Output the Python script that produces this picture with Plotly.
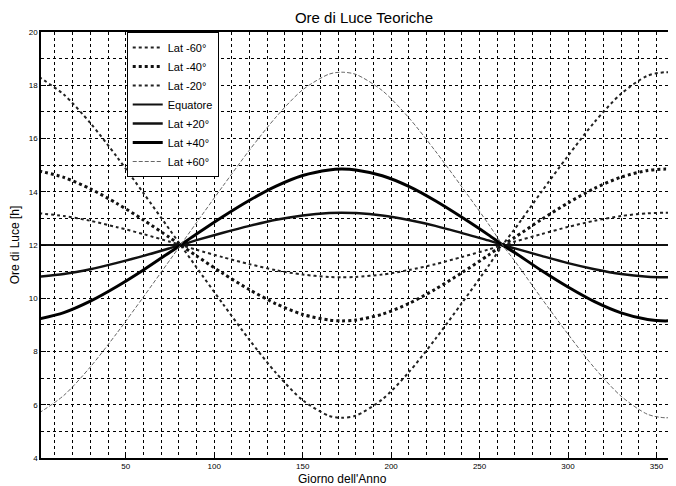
import plotly.graph_objects as go

# Day of year samples
days = [1, 15, 30, 45, 60, 75, 81, 90, 105, 120, 135, 150, 165, 172, 180,
        195, 210, 225, 240, 255, 263, 270, 285, 300, 315, 330, 345, 355, 360]

# Hours of daylight
lat_m60 = [18.31, 17.65, 16.58, 15.31, 13.95, 12.56, 12.00, 11.16, 9.78, 8.43, 7.19, 6.17, 5.58, 5.51, 5.59,
           6.20, 7.22, 8.47, 9.82, 11.21, 12.00, 12.61, 14.00, 15.35, 16.62, 17.68, 18.36, 18.49, 18.46]
lat_m40 = [14.78, 14.54, 14.11, 13.56, 12.94, 12.27, 12.00, 11.59, 10.93, 10.32, 9.79, 9.39, 9.18, 9.15, 9.18,
           9.40, 9.80, 10.34, 10.96, 11.62, 12.00, 12.29, 12.96, 13.58, 14.13, 14.55, 14.80, 14.85, 14.83]
lat_m20 = [13.19, 13.09, 12.91, 12.67, 12.41, 12.12, 12.00, 11.82, 11.54, 11.28, 11.05, 10.89, 10.80, 10.79, 10.80,
           10.89, 11.06, 11.28, 11.55, 11.83, 12.00, 12.13, 12.41, 12.68, 12.91, 13.09, 13.19, 13.21, 13.21]
equatore = [12.00] * len(days)
lat_p20 = [10.81, 10.91, 11.09, 11.33, 11.59, 11.88, 12.00, 12.18, 12.46, 12.72, 12.95, 13.11, 13.20, 13.21, 13.20,
           13.11, 12.94, 12.72, 12.45, 12.17, 12.00, 11.87, 11.59, 11.32, 11.09, 10.91, 10.81, 10.79, 10.79]
lat_p40 = [9.22, 9.46, 9.89, 10.44, 11.06, 11.73, 12.00, 12.41, 13.07, 13.68, 14.21, 14.61, 14.82, 14.85, 14.82,
           14.60, 14.20, 13.66, 13.04, 12.38, 12.00, 11.71, 11.04, 10.42, 9.87, 9.45, 9.20, 9.15, 9.17]
lat_p60 = [5.69, 6.35, 7.42, 8.69, 10.05, 11.44, 12.00, 12.84, 14.22, 15.57, 16.81, 17.83, 18.42, 18.49, 18.41,
           17.80, 16.78, 15.53, 14.18, 12.79, 12.00, 11.39, 10.00, 8.65, 7.38, 6.32, 5.64, 5.51, 5.54]

series_names = ["Lat -60°", "Lat -40°", "Lat -20°", "Equatore", "Lat +20°", "Lat +40°", "Lat +60°"]
series_values = [lat_m60, lat_m40, lat_m20, equatore, lat_p20, lat_p40, lat_p60]
styles = [
    dict(color="#222", width=2, dash="dot"),
    dict(color="#111", width=3, dash="dot"),
    dict(color="#222", width=2, dash="dot"),
    dict(color="#111", width=2, dash="solid"),
    dict(color="#111", width=2.4, dash="solid"),
    dict(color="#000", width=3, dash="solid"),
    dict(color="#666", width=1, dash="4px,2px"),
]

fig = go.Figure()
for name, vals, st in zip(series_names, series_values, styles):
    fig.add_trace(go.Scatter(x=days, y=vals, mode="lines", name=name,
                             line=dict(shape="spline", smoothing=0.8, **st)))

# The page body has an 8px margin, so the figure starts at (8, 8)
W, H = 668, 478
L, T, B = 33, 24, 28
PW, PH = W - L, H - T - B

font = "Liberation Sans, Arial, sans-serif"
fig.update_layout(
    width=W, height=H,
    margin=dict(l=L, r=0, t=T, b=B),
    paper_bgcolor="white", plot_bgcolor="white",
    font=dict(family=font, color="black"),
    title=dict(text="Ore di Luce Teoriche", x=356 / W, xanchor="center",
               y=1 - 10 / H, yanchor="middle", font=dict(size=15, family=font)),
    showlegend=True,
    legend=dict(x=(119 - L) / PW, xanchor="left", y=1, yanchor="top",
                bgcolor="white", bordercolor="black", borderwidth=1,
                font=dict(size=11, family=font), tracegroupgap=0, itemwidth=30),
    xaxis=dict(range=[2.1, 359.9], dtick=50, tick0=0, showgrid=True, gridcolor="black",
               griddash="dot", gridwidth=1, ticks="inside", ticklen=5, tickcolor="black",
               showline=True, linecolor="black", linewidth=1.5, mirror=True, zeroline=False,
               tickfont=dict(size=8, family=font),
               minor=dict(dtick=10, tick0=0, showgrid=True, gridcolor="black", griddash="dot", gridwidth=1)),
    yaxis=dict(range=[4, 20], dtick=2, showgrid=True, gridcolor="black",
               griddash="dot", gridwidth=1, ticks="inside", ticklen=5, tickcolor="black",
               showline=True, linecolor="black", linewidth=1.5, mirror=True, zeroline=False,
               tickfont=dict(size=8, family=font),
               title=dict(text="Ore di Luce [h]", font=dict(size=12, family=font), standoff=8),
               minor=dict(dtick=1, showgrid=True, gridcolor="black", griddash="dot", gridwidth=1)),
    annotations=[dict(text="Giorno dell'Anno", xref="paper", yref="paper",
                      x=(335 - L) / PW, y=-21 / PH, xanchor="center", yanchor="middle",
                      showarrow=False, font=dict(size=12, family=font))],
)

fig.write_html("out.html")
